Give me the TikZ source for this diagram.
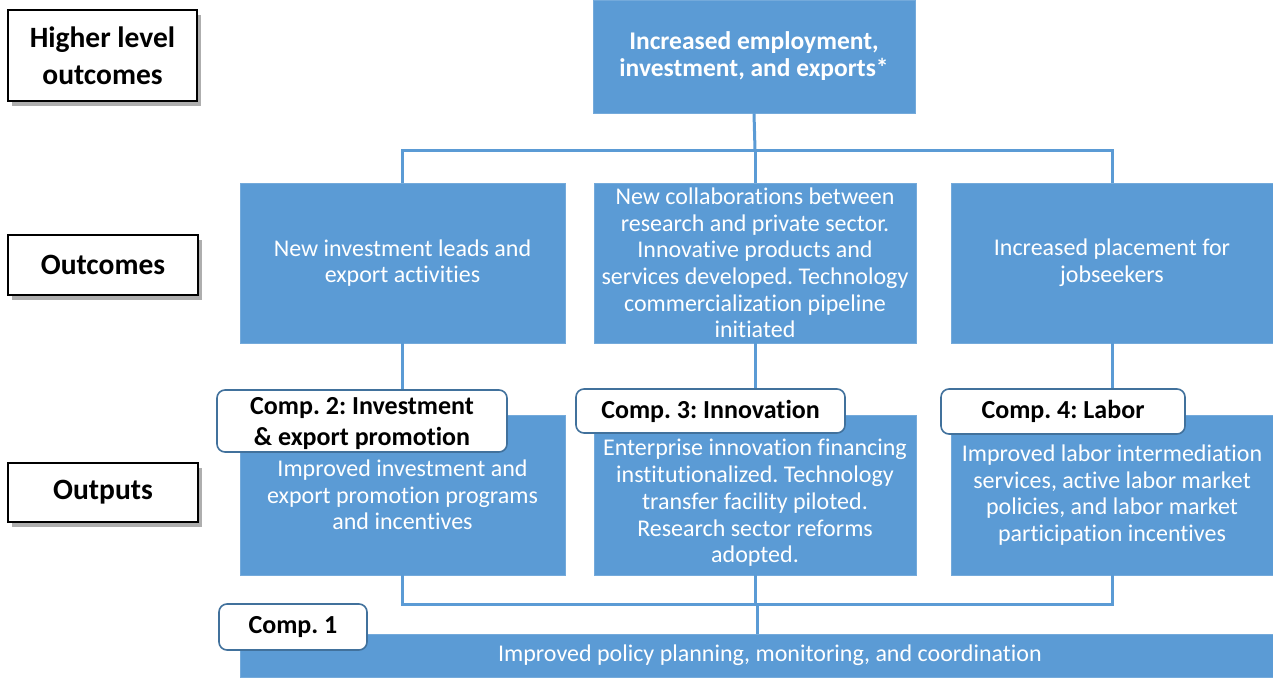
\documentclass[tikz,border=0pt]{standalone}
\usepackage{fontspec}
\setmainfont{Carlito}[Ligatures=NoCommon]
\usetikzlibrary{shadows}
\definecolor{boxblue}{RGB}{91,155,213}
\definecolor{tabedge}{RGB}{65,113,156}
\frenchspacing
\tikzset{
  bluebox/.style={fill=boxblue, draw=boxblue!85!white, line width=0.8pt, text=white,
    align=center, inner sep=0pt, font=\fontsize{24}{26.7}\selectfont},
  headbox/.style={bluebox, font=\fontsize{25.5}{27}\selectfont\bfseries},
  levelbox/.style={draw=black, line width=2pt, fill=white, align=center, inner sep=0pt,
    font=\fontsize{29.5}{37}\selectfont\bfseries,
    drop shadow={shadow xshift=4pt, shadow yshift=-5pt, opacity=0.45, fill=black!70}},
  comptab/.style={draw=tabedge, line width=1.6pt, fill=white, rounded corners=8pt,
    align=center, inner sep=0pt, font=\fontsize{26}{31}\selectfont\bfseries},
  link/.style={draw=boxblue, line width=3pt}
}
\begin{document}
\begin{tikzpicture}[x=1pt, y=-1pt]
\useasboundingbox (0,0) rectangle (1273,677);
\clip (0,0) rectangle (1273,677);

% level labels on the left
\node[levelbox, minimum width=189pt, minimum height=91pt] (lvlhigh) at (102.5,55.5) {Higher level\\outcomes};
\node[levelbox, minimum width=190pt, minimum height=60pt] (lvlout) at (103,265) {Outcomes};
\node[levelbox, minimum width=190pt, minimum height=59pt] (lvlput) at (103,492.5) {Outputs};

% higher level outcome
\node[headbox, minimum width=322pt, minimum height=113pt] (top) at (754,56.5)
  {Increased employment,\\investment, and exports*};

% outcomes
\node[bluebox, minimum width=325pt, minimum height=160pt] (ol) at (402.5,263)
  {New investment leads and\\export activities};
\node[bluebox, minimum width=322pt, minimum height=160pt] (om) at (755,263)
  {New collaborations between\\research and private sector.\\Innovative products and\\services developed. Technology\\commercialization pipeline\\initiated};
\node[bluebox, minimum width=322pt, minimum height=160pt] (or) at (1112,263)
  {Increased placement for\\jobseekers};

% outputs (middle text sits a little lower, below its tab)
\node[bluebox, minimum width=325pt, minimum height=160pt] (pl) at (402.5,495)
  {Improved investment and\\export promotion programs\\and incentives};
\node[bluebox, minimum width=322pt, minimum height=160pt] (pm) at (755,495)
  {\raisebox{-8pt}[\height][\depth]{\parbox{322pt}{\centering Enterprise innovation financing\\institutionalized. Technology\\transfer facility piloted.\\Research sector reforms\\adopted.}}};
\node[bluebox, minimum width=322pt, minimum height=160pt] (pr) at (1112,495)
  {Improved labor intermediation\\services, active labor market\\policies, and labor market\\participation incentives};

% policy bar, running off the right edge
\node[bluebox, minimum width=1060pt, minimum height=43pt] (bar) at (770,655.5)
  {Improved policy planning, monitoring, and coordination};

% connectors between levels
\coordinate (jt) at (755,150);
\coordinate (jb) at (757,604);
\draw[link] (top.south) -- (jt);
\draw[link] (ol.north) -- (ol.north |- jt) -- (or.north |- jt) -- (or.north);
\draw[link] (jt) -- (om.north);

% component tabs
\node[comptab, minimum width=290pt, minimum height=62pt] (c2) at (362,421)
  {\raisebox{-3pt}[\height][\depth]{\parbox{290pt}{\centering Comp. 2: Investment\\\& export promotion}}};
\node[comptab, minimum width=269pt, minimum height=44pt] (c3) at (710.5,411) {Comp. 3: Innovation};
\node[comptab, minimum width=244pt, minimum height=45pt] (c4) at (1063,411.5) {Comp. 4: Labor};

\draw[link] (ol.south) -- (ol.south |- c2.north);
\draw[link] (om.south) -- (om.south |- c3.north);
\draw[link] (or.south) -- (or.south |- c4.north);

\draw[link] (pl.south) -- (pl.south |- jb) -- (pr.south |- jb) -- (pr.south);
\draw[link] (pm.south) -- (pm.south |- jb);
\draw[link] (jb) -- (jb |- bar.north);

\node[comptab, minimum width=148pt, minimum height=46pt] (c1) at (293,627) {Comp. 1};
\end{tikzpicture}
\end{document}
